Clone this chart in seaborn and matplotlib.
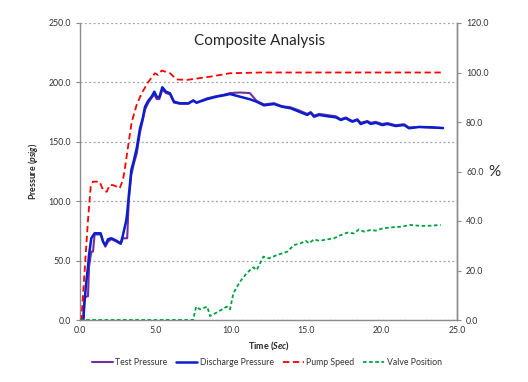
import matplotlib
matplotlib.use("Agg")
import matplotlib.pyplot as plt
import seaborn as sns
import pandas as pd

# tiempo de las presiones (s)
t_pres = [0.0, 0.22, 0.3, 0.4, 0.53, 0.6, 0.75, 0.86, 0.97, 1.37, 1.53, 1.68, 1.86, 2.08,
          2.41, 2.7, 2.85, 3.07, 3.13, 3.23, 3.4, 3.58, 3.76, 3.98, 4.16, 4.31, 4.53, 4.75,
          4.93, 5.08, 5.26, 5.46, 5.7, 5.97, 6.23, 6.63, 7.18, 7.51, 7.73, 8.4, 9.06, 9.5,
          9.95, 10.6, 11.27, 11.7, 12.2, 12.86, 13.4, 13.97, 14.5, 15.07, 15.3, 15.52, 15.85,
          16.4, 16.96, 17.29, 17.62, 18.06, 18.39, 18.61, 19.05, 19.28, 19.61, 20.05, 20.38,
          20.93, 21.49, 21.82, 22.48, 23.26, 24.07]
discharge = [0, 0, 15, 30, 45, 55, 68.8, 71, 73, 73, 66, 63, 68, 68.8, 66.8, 64.5, 71.5, 84,
             90, 103.8, 126, 134.7, 144.5, 161.4, 169.8, 179.5, 184.6, 188, 192.2, 188, 187.4,
             195.9, 192.2, 190.8, 183.8, 182.4, 182.4, 184.6, 182.9, 185.8, 188, 189, 190.2,
             188, 185.8, 183.8, 180.7, 181.8, 179.5, 178.2, 175.5, 172.6, 174.5, 171.1, 172.6,
             171.5, 170.6, 168.4, 169.8, 166.9, 168.4, 165, 166.9, 165, 166, 164.1, 165, 163.3,
             164.1, 161.4, 162.5, 162.2, 161.6]
test = [0, 0, 19.6, 19.6, 20, 45, 57.5, 57.5, 72, 72, 66, 61.7, 66, 68, 66, 64, 68.8, 68.8,
        68.8, 100, 122, 132, 140, 158, 168, 177, 183, 187, 190, 186, 186, 194, 191, 190, 183,
        182, 182, 185, 183, 186.5, 188.5, 189.5, 191, 191.5, 191, 184.5, 181.5, 182.5, 180,
        179, 176.5, 173.5, 175, 172, 173.5, 172.5, 171.5, 169, 170.5, 167.5, 169, 166, 167.5,
        166, 166.8, 165, 165.8, 164, 164.8, 162, 162.5, 162, 161.5]

# velocidad de la bomba (%)
t_pump = [0.0, 0.09, 0.31, 0.53, 0.71, 0.86, 1.3, 1.53, 1.77, 1.97, 2.19, 2.43, 2.63, 2.85,
          2.96, 3.25, 3.43, 3.76, 4.09, 4.51, 4.97, 5.17, 5.42, 5.97, 6.41, 7.08, 8.62, 9.95,
          12.0, 24.07]
pump = [0, 0, 20.2, 40.4, 53.9, 55.9, 55.9, 52.5, 51.8, 54.5, 54.5, 53.9, 53.2, 56.6, 60.6,
        72.7, 80, 87, 91.6, 96, 99.7, 99, 100.8, 99.7, 97.2, 97, 98.3, 99.7, 100, 100]

# posicion de la valvula (%)
t_valve = [0, 7.5, 7.7, 7.96, 8.44, 8.62, 9.06, 9.73, 9.95, 10.17, 10.61, 11.05, 11.49, 11.72,
           12.16, 12.53, 13.08, 13.75, 14.19, 14.64, 14.97, 15.19, 15.52, 15.85, 16.84, 17.29,
           17.72, 18.17, 18.5, 18.83, 19.28, 19.61, 20.05, 20.6, 21.27, 21.93, 22.6, 23.26,
           23.92]
valve = [0, 0, 5.4, 4.3, 5.4, 1.6, 3.0, 5.4, 4.3, 10.8, 15.5, 18.9, 21.3, 20.2, 25.6, 24.9,
         26.3, 27.6, 30.3, 31, 32, 31, 32.6, 32, 33, 34.3, 35.3, 35, 36.6, 35.7, 36.4, 36.1,
         37, 37.4, 37.7, 38.4, 38, 38.1, 38.4]

left_ticks = [0, 50, 100, 150, 200, 250]
right_ticks = [0, 20, 40, 60, 80, 100, 120]
x_ticks = [0, 5, 10, 15, 20, 25]

sns.set_style("white")
plt.rcParams['font.family'] = ['Lato', 'DejaVu Sans']
plt.rcParams['mathtext.fontset'] = 'custom'
plt.rcParams['mathtext.it'] = 'Lato:style=italic:weight=bold'

df_p = pd.DataFrame({"t": t_pres, "test": test, "dis": discharge})

fig = plt.figure(figsize=(5.28, 3.82), dpi=100)
ax = fig.add_axes([80 / 528, 1 - 320 / 382, 377 / 528, 297 / 382])
ax2 = ax.twinx()

sns.lineplot(data=df_p, x="t", y="test", ax=ax, color="#7030A0", lw=1.5,
             label="Test Pressure", estimator=None)
sns.lineplot(data=df_p, x="t", y="dis", ax=ax, color="#0A1ECC", lw=1.8,
             label="Discharge Pressure", estimator=None)
sns.lineplot(x=t_pump, y=pump, ax=ax2, color="#FF0000", lw=1.3,
             label="Pump Speed", estimator=None).lines[-1].set_dashes([3.5, 2])
sns.lineplot(x=t_valve, y=valve, ax=ax2, color="#00A040", lw=1.3,
             label="Valve Position", estimator=None).lines[-1].set_dashes([2, 1.4])

ax.set_xlim(0, 25)
ax.set_ylim(0, 250)
ax2.set_ylim(0, 120)
ax.set_xticks(x_ticks)
ax.set_yticks(left_ticks)
ax2.set_yticks(right_ticks)
ax.set_xticklabels([f"{v:.1f}" for v in x_ticks])
ax.set_yticklabels([f"{v:.1f}" for v in left_ticks])
ax2.set_yticklabels([f"{v:.1f}" for v in right_ticks])

ax.yaxis.grid(True, color="#A0A0A0", linestyle=(0, (1.5, 2)), lw=0.9)
ax.set_axisbelow(True)
for a in (ax, ax2):
    a.spines["top"].set_visible(False)
    for s in ("left", "right", "bottom"):
        a.spines[s].set_color("#8C8C8C")
        a.spines[s].set_linewidth(1.0)
    a.tick_params(labelsize=6.3, colors="#8C8C8C", labelcolor="#333333",
                  length=3, width=0.8, direction="out")
ax.tick_params(axis="x", length=0, pad=4)
ax2.spines["left"].set_visible(False)
ax2.spines["bottom"].set_visible(False)

ax.set_xlabel(r"Time ($\mathit{Sec}$)", fontsize=6.5, fontweight="bold", labelpad=4)
ax.set_ylabel(r"Pressure ($\mathit{psig}$)", fontsize=6.3, fontweight="bold", labelpad=6)
ax2.set_ylabel("%", fontsize=11, rotation=0, labelpad=4, va="center")
ax.text(0.475, 0.94, "Composite Analysis", transform=ax.transAxes, ha="center",
        va="center", fontsize=11)

h1, l1 = ax.get_legend_handles_labels()
h2, l2 = ax2.get_legend_handles_labels()
ax.get_legend().remove()
ax2.get_legend().remove()
fig.legend(h1 + h2, l1 + l2, loc="center", bbox_to_anchor=(0.505, 0.05), ncol=4,
           frameon=False, fontsize=6.3, handlelength=2.4, handletextpad=0.3,
           columnspacing=1.0, labelcolor="#333333")

fig.savefig("out.png", dpi=100)
